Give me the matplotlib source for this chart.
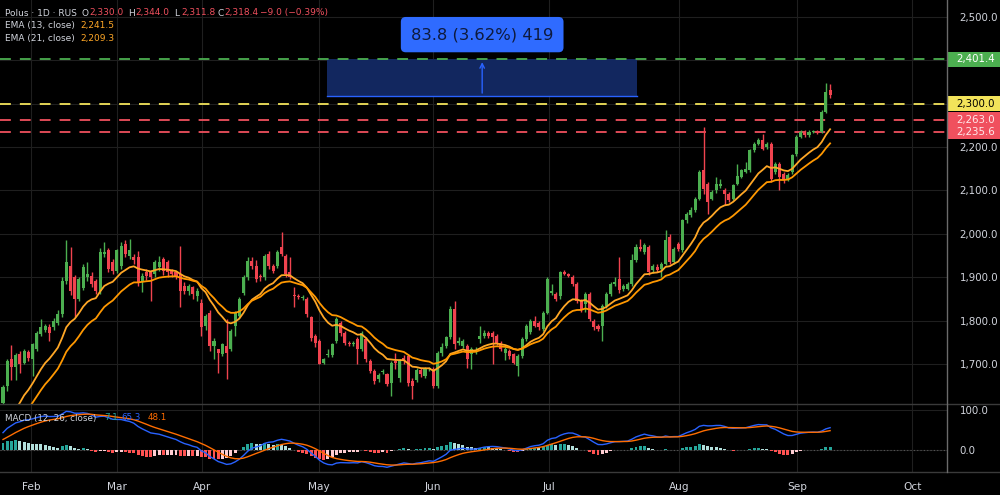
import numpy as np
import matplotlib.pyplot as plt
from matplotlib.patches import Rectangle
from matplotlib.lines import Line2D
import matplotlib.transforms as mtransforms

plt.rcParams['font.family'] = ['DejaVu Sans']

# ===== daily candles =====
opens = [1612, 1650, 1712, 1693, 1723, 1704, 1728, 1713, 1735, 1769,
         1780, 1787, 1787, 1796, 1815, 1892, 1927, 1900, 1850, 1875,
         1900, 1904, 1892, 1869, 1954, 1962, 1935, 1915, 1927, 1977,
         1950, 1946, 1946, 1889, 1912, 1912, 1908, 1923, 1942, 1935,
         1915, 1912, 1908, 1881, 1869, 1877, 1858, 1842, 1788, 1819,
         1742, 1735, 1725, 1742, 1735, 1788, 1811, 1865, 1900, 1938,
         1927, 1904, 1900, 1954, 1927, 1927, 1969, 1950, 1912, 1860,
         1858, 1853, 1850, 1808, 1765, 1754, 1704, 1722, 1721, 1754,
         1796, 1773, 1750, 1747, 1758, 1735, 1758, 1708, 1685, 1666,
         1683, 1677, 1658, 1708, 1669, 1715, 1719, 1662, 1665, 1688,
         1673, 1690, 1690, 1650, 1727, 1742, 1762, 1827, 1750, 1742,
         1742, 1723, 1730, 1758, 1765, 1773, 1773, 1765, 1750, 1727,
         1731, 1723, 1696, 1719, 1758, 1774, 1800, 1796, 1781, 1819,
         1865, 1862, 1858, 1912, 1908, 1900, 1885, 1846, 1839, 1862,
         1800, 1788, 1788, 1835, 1862, 1885, 1897, 1874, 1874, 1886,
         1939, 1970, 1958, 1970, 1916, 1925, 1920, 1931, 1993, 1935,
         1977, 1962, 2031, 2043, 2054, 2081, 2148, 2115, 2081, 2100,
         2110, 2102, 2093, 2081, 2115, 2131, 2142, 2146, 2192, 2208,
         2215, 2200, 2208, 2142, 2161, 2138, 2127, 2142, 2185, 2223,
         2235, 2227, 2235, 2237, 2235, 2281, 2330]
highs = [1652, 1712, 1744, 1727, 1730, 1735, 1733, 1750, 1777, 1804,
         1792, 1792, 1806, 1825, 1900, 1985, 1970, 1905, 1900, 1931,
         1935, 1912, 1896, 1967, 1981, 1967, 1942, 1966, 1981, 1985,
         1989, 1955, 1960, 1910, 1920, 1917, 1940, 1950, 1946, 1940,
         1920, 1915, 1973, 1890, 1886, 1880, 1875, 1850, 1815, 1825,
         1760, 1735, 1750, 1804, 1781, 1823, 1855, 1905, 1946, 1946,
         1940, 1908, 1954, 1960, 1930, 1962, 2004, 1955, 1946, 1877,
         1862, 1860, 1855, 1812, 1770, 1758, 1715, 1735, 1750, 1808,
         1800, 1778, 1755, 1754, 1762, 1777, 1762, 1712, 1690, 1680,
         1690, 1681, 1708, 1727, 1712, 1722, 1725, 1668, 1692, 1692,
         1693, 1695, 1694, 1731, 1750, 1766, 1834, 1846, 1762, 1758,
         1746, 1740, 1740, 1788, 1780, 1778, 1777, 1770, 1755, 1740,
         1735, 1727, 1723, 1762, 1792, 1805, 1812, 1800, 1823, 1900,
         1885, 1866, 1915, 1916, 1910, 1905, 1890, 1850, 1866, 1866,
         1805, 1792, 1840, 1866, 1890, 1900, 1947, 1885, 1890, 1955,
         1978, 1989, 1980, 1975, 1930, 1930, 1935, 2008, 2000, 1970,
         1982, 2035, 2050, 2062, 2085, 2146, 2246, 2120, 2100, 2131,
         2127, 2106, 2097, 2115, 2162, 2150, 2165, 2196, 2212, 2220,
         2231, 2212, 2212, 2165, 2166, 2142, 2140, 2185, 2227, 2240,
         2240, 2240, 2240, 2240, 2285, 2346, 2344]
lows = [1600, 1640, 1665, 1665, 1680, 1700, 1708, 1673, 1730, 1765,
        1775, 1754, 1780, 1790, 1810, 1885, 1860, 1808, 1845, 1870,
        1892, 1878, 1862, 1862, 1946, 1912, 1908, 1910, 1920, 1946,
        1942, 1930, 1880, 1866, 1895, 1846, 1900, 1915, 1905, 1900,
        1900, 1896, 1831, 1862, 1860, 1850, 1845, 1765, 1780, 1730,
        1712, 1681, 1720, 1666, 1730, 1765, 1806, 1860, 1895, 1920,
        1890, 1892, 1895, 1920, 1910, 1922, 1950, 1900, 1896, 1831,
        1850, 1848, 1810, 1755, 1740, 1700, 1700, 1716, 1716, 1750,
        1765, 1745, 1742, 1742, 1700, 1730, 1705, 1680, 1655, 1660,
        1678, 1650, 1627, 1689, 1660, 1700, 1650, 1620, 1660, 1670,
        1668, 1685, 1645, 1645, 1720, 1738, 1758, 1735, 1745, 1738,
        1692, 1690, 1725, 1750, 1760, 1760, 1700, 1745, 1730, 1710,
        1712, 1700, 1674, 1715, 1754, 1770, 1785, 1780, 1777, 1815,
        1860, 1845, 1850, 1905, 1900, 1880, 1842, 1820, 1820, 1800,
        1780, 1777, 1754, 1830, 1858, 1880, 1865, 1868, 1870, 1880,
        1935, 1960, 1955, 1905, 1910, 1912, 1900, 1928, 1930, 1930,
        1960, 1958, 2025, 2040, 2050, 2078, 2092, 2047, 2078, 2095,
        2105, 2066, 2073, 2078, 2112, 2128, 2140, 2142, 2188, 2205,
        2192, 2195, 2120, 2138, 2100, 2118, 2122, 2138, 2180, 2220,
        2224, 2224, 2232, 2230, 2232, 2278, 2311.8]
closes = [1647, 1708, 1693, 1721, 1700, 1731, 1715, 1746, 1773, 1787,
          1788, 1773, 1800, 1817, 1892, 1935, 1869, 1850, 1896, 1923,
          1908, 1885, 1869, 1958, 1958, 1919, 1915, 1962, 1973, 1954,
          1962, 1939, 1889, 1904, 1904, 1900, 1935, 1935, 1915, 1912,
          1908, 1904, 1869, 1869, 1881, 1862, 1869, 1785, 1811, 1742,
          1754, 1727, 1746, 1727, 1777, 1819, 1850, 1900, 1938, 1927,
          1896, 1900, 1950, 1927, 1915, 1958, 1954, 1908, 1900, 1858,
          1856, 1856, 1815, 1761, 1750, 1702, 1712, 1725, 1746, 1804,
          1773, 1750, 1747, 1750, 1735, 1773, 1712, 1685, 1662, 1675,
          1685, 1654, 1704, 1704, 1708, 1708, 1658, 1650, 1688, 1677,
          1689, 1691, 1650, 1727, 1740, 1762, 1827, 1746, 1754, 1754,
          1712, 1735, 1734, 1765, 1773, 1765, 1762, 1750, 1735, 1735,
          1719, 1704, 1719, 1758, 1788, 1800, 1788, 1785, 1819, 1896,
          1869, 1850, 1912, 1908, 1904, 1885, 1846, 1827, 1862, 1804,
          1785, 1781, 1835, 1862, 1885, 1889, 1872, 1880, 1884, 1939,
          1970, 1965, 1974, 1912, 1927, 1916, 1931, 1985, 1935, 1966,
          1966, 2031, 2047, 2054, 2081, 2142, 2104, 2073, 2096, 2115,
          2115, 2093, 2077, 2112, 2134, 2146, 2150, 2192, 2208, 2215,
          2196, 2208, 2127, 2161, 2131, 2123, 2135, 2181, 2223, 2235,
          2227, 2235, 2237, 2233, 2281, 2327.4, 2318.4]

# EMA / MACD state carried in from before the first visible bar
ema13_seed, ema21_seed = 1513, 1497
ema12_seed, ema26_seed, signal_seed = 1510, 1475, 22

month_labels = ['Feb', 'Mar', 'Apr', 'May', 'Jun', 'Jul', 'Aug', 'Sep', 'Oct']
month_pos = [6.6, 27.0, 47.2, 74.9, 101.9, 129.4, 160.2, 188.2, 215.5]
price_ticks = [1700, 1800, 1900, 2000, 2100, 2200, 2300, 2400, 2500]

levels = [2401.4, 2300.0, 2263.0, 2235.6]
level_colors = ['#4caf50', '#f2e35a', '#f0505e', '#f0505e']
level_text_colors = ['white', 'black', '#ffe8ea', '#ffe8ea']

measure_low, measure_high = 2317.6, 2401.4
measure_start, measure_end = 76.8, 150.3
measure_label = '83.8 (3.62%) 419'


def ema(values, n, seed):
    a = 2.0 / (n + 1)
    out, e = [], seed
    for v in values:
        e = e + a * (v - e)
        out.append(e)
    return np.array(out)


o = np.array(opens, float)
h = np.array(highs, float)
l = np.array(lows, float)
c = np.array(closes, float)
idx = np.arange(len(c))

ema13 = ema(c, 13, ema13_seed)
ema21 = ema(c, 21, ema21_seed)
macd = ema(c, 12, ema12_seed) - ema(c, 26, ema26_seed)
signal = ema(macd, 9, signal_seed)
hist = macd - signal

UP, DOWN = '#4caf50', '#f0434f'
GRID = '#1f1f1f'
TXT = '#d1d4dc'

fig = plt.figure(figsize=(10, 4.95), dpi=100, facecolor='black')
ax = fig.add_axes([0, 1 - 404 / 495, 0.947, 404 / 495])
ax2 = fig.add_axes([0, 1 - 472 / 495, 0.947, 67 / 495], sharex=ax)
for a in (ax, ax2):
    a.set_facecolor('black')
    for s in a.spines.values():
        s.set_visible(False)

# ----- candles -----
up = c >= o
col = np.where(up, UP, DOWN)
ax.vlines(idx, l, h, colors=col, lw=1.0, zorder=3)
body_lo = np.minimum(o, c)
body_h = np.maximum(np.abs(c - o), 2.0)
ax.bar(idx, body_h, bottom=body_lo, width=0.72, color=col, lw=0, zorder=4)

ax.plot(idx, ema13, color='#ffa726', lw=1.3, zorder=5)
ax.plot(idx, ema21, color='#ff9800', lw=1.3, zorder=5)

# ----- horizontal levels -----
for lev, lc in zip(levels, level_colors):
    ax.axhline(lev, color=lc, lw=1.3, dashes=(6, 5), zorder=2)

# ----- measurement box -----
ax.add_patch(Rectangle((measure_start, measure_low), measure_end - measure_start,
                       measure_high - measure_low, facecolor='#12275f',
                       edgecolor='none', zorder=1.5))
ax.plot([measure_start, measure_end], [measure_low, measure_low], color='#2962ff', lw=1.0, zorder=2)
mid = (measure_start + measure_end) / 2
ax.annotate('', xy=(mid, measure_high), xytext=(mid, measure_low),
            arrowprops=dict(arrowstyle='->', color='#2962ff', lw=1.0, mutation_scale=8), zorder=3)
ax.text(mid, measure_high + 57, measure_label, ha='center', va='center', fontsize=11.8,
        color='#0e1a3d', zorder=6,
        bbox=dict(boxstyle='round,pad=0.62,rounding_size=0.3', fc='#2f6bff', ec='none'))

ax.set_xlim(-0.71, 223.7)
ax.set_ylim(1609, 2538)
ax.set_xticks(month_pos)
ax.set_yticks(price_ticks)
ax.set_yticklabels(['' if p in (2300, 2400) else f'{p:,.1f}' for p in price_ticks])
ax.yaxis.tick_right()
ax.tick_params(axis='y', length=0, pad=9, labelsize=7.4, labelcolor=TXT)
ax.tick_params(axis='x', length=0, labelbottom=False)
ax.grid(True, color=GRID, lw=0.8, zorder=0)
ax.set_axisbelow(True)

# price tags on the right axis
ybl = mtransforms.blended_transform_factory(ax.transAxes, ax.transData)
for lev, lc, tc in zip(levels, level_colors, level_text_colors):
    ax.add_patch(Rectangle((1.0, lev - 18), 0.06, 36, transform=ybl, facecolor=lc,
                           edgecolor='none', clip_on=False, zorder=7))
    ax.text(1.0 + 9 / 947, lev, f'{lev:,.1f}', transform=ybl, ha='left', va='center',
            fontsize=7.4, color=tc, clip_on=False, zorder=8)

# ----- MACD -----
hcol = []
for i, v in enumerate(hist):
    prev = hist[i - 1] if i > 0 else v
    if v >= 0:
        hcol.append('#26a69a' if v >= prev else '#b2dfdb')
    else:
        hcol.append('#ff5252' if v < prev else '#ffcdd2')
ax2.bar(idx, hist, width=0.7, color=hcol, lw=0, zorder=3)
ax2.plot(idx, macd, color='#2962ff', lw=1.0, zorder=4)
ax2.plot(idx, signal, color='#ff6d00', lw=1.0, zorder=4)
ax2.axhline(0, color='#555555', lw=0.8, ls=(0, (1, 2)), zorder=2)
ax2.set_ylim(-55, 112.5)
ax2.set_yticks([0, 100])
ax2.set_yticklabels(['0.0', '100.0'])
ax2.yaxis.tick_right()
ax2.tick_params(axis='y', length=0, pad=9, labelsize=7.4, labelcolor=TXT)
ax2.set_xticks(month_pos)
ax2.set_xticklabels(month_labels)
ax2.tick_params(axis='x', length=0, pad=7, labelsize=7.6, labelcolor=TXT)
ax2.grid(True, color=GRID, lw=0.8, zorder=0)
ax2.set_axisbelow(True)

# ----- separators -----
for y in (404, 472):
    fig.add_artist(Line2D([0, 1], [1 - y / 495, 1 - y / 495], transform=fig.transFigure,
                          color='#3a3a3a', lw=1.0))
fig.add_artist(Line2D([0.947, 0.947], [1 - 472 / 495, 1], transform=fig.transFigure,
                      color='#6b6b6b', lw=1.0))

# ----- legends -----
def ftxt(x, y, s, color=TXT, size=6.5):
    fig.text(x / 1000, 1 - y / 495, s, color=color, fontsize=size, va='center', ha='left')

RED = '#f0505e'
ftxt(5, 13, 'Polus · 1D · RUS')
for lab, val, x in [('O', '2,330.0', 82), ('H', '2,344.0', 128), ('L', '2,311.8', 174), ('C', '2,318.4', 217)]:
    ftxt(x, 13, lab)
    ftxt(x + 7, 13, val, RED)
ftxt(260, 13, '−9.0 (−0.39%)', RED)
ftxt(5, 25.5, 'EMA (13, close)')
ftxt(80, 25.5, '2,241.5', '#ffa726')
ftxt(5, 38, 'EMA (21, close)')
ftxt(80, 38, '2,209.3', '#ffa726')

ftxt(5, 418, 'MACD (12, 26, close)', size=6.3)
ftxt(104, 418, '7.1', '#26a69a', 6.3)
ftxt(121, 418, '65.3', '#2962ff', 6.3)
ftxt(148, 418, '48.1', '#ff6d00', 6.3)

fig.savefig('out.png', dpi=100, facecolor='black')
